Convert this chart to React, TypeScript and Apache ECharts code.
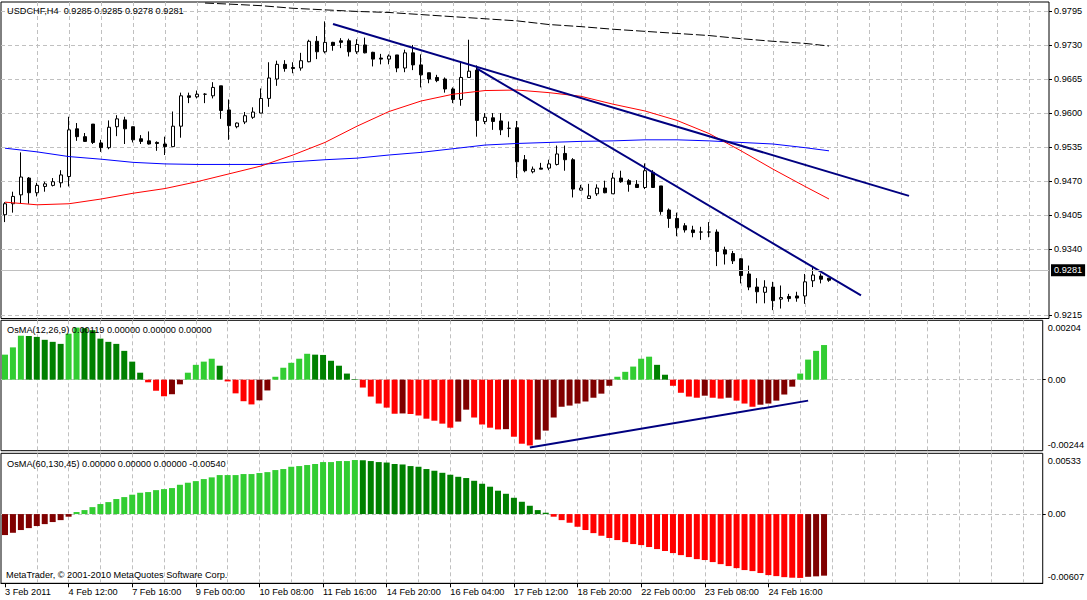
import React, { useEffect, useRef } from 'react';
import * as echarts from 'echarts';

const symbolName = 'USDCHF,H4';
const copyright = 'MetaTrader, \u00a9 2001-2010 MetaQuotes Software Corp.';
const osmaFastName = 'OsMA(12,26,9)';
const osmaSlowName = 'OsMA(60,130,45)';

const tickLabels = ['3 Feb 2011', '4 Feb 12:00', '7 Feb 16:00', '9 Feb 00:00', '10 Feb 08:00', '11 Feb 16:00',
  '14 Feb 20:00', '16 Feb 04:00', '17 Feb 12:00', '18 Feb 20:00', '22 Feb 00:00', '23 Feb 08:00', '24 Feb 16:00'];
const labelEvery = 8;
const gridEvery = 4;
const slotCount = 131;

const opens = [0.9406, 0.9427, 0.9444, 0.9476, 0.9448, 0.9460, 0.9462, 0.9467, 0.9479, 0.9570,
  0.9555, 0.9579, 0.9543, 0.9534, 0.9574, 0.9587, 0.9574, 0.9551, 0.9547, 0.9544,
  0.9541, 0.9536, 0.9575, 0.9633, 0.9631, 0.9636, 0.9633, 0.9652, 0.9606, 0.9574,
  0.9583, 0.9592, 0.9600, 0.9628, 0.9665, 0.9693, 0.9687, 0.9686, 0.9698, 0.9737,
  0.9717, 0.9735, 0.9738, 0.9738, 0.9717, 0.9730, 0.9716, 0.9705, 0.9703, 0.9711,
  0.9686, 0.9715, 0.9692, 0.9677, 0.9668, 0.9665, 0.9646, 0.9626, 0.9668, 0.9682,
  0.9584, 0.9591, 0.9585, 0.9571, 0.9572, 0.9511, 0.9488, 0.9495, 0.9495, 0.9502,
  0.9523, 0.9511, 0.9453, 0.9437, 0.9446, 0.9457, 0.9446, 0.9476, 0.9471, 0.9464,
  0.9458, 0.9487, 0.9461, 0.9415, 0.9399, 0.9385, 0.9377, 0.9373, 0.9373, 0.9373,
  0.9339, 0.9332, 0.9322, 0.9293, 0.9268, 0.9258, 0.9268, 0.9245, 0.9250, 0.9251,
  0.9251, 0.9280, 0.9289, 0.9285];
const highs = [0.9430, 0.9450, 0.9525, 0.9478, 0.9467, 0.9469, 0.9476, 0.9491, 0.9593, 0.9581,
  0.9562, 0.9579, 0.9549, 0.9586, 0.9596, 0.9593, 0.9574, 0.9558, 0.9565, 0.9546,
  0.9555, 0.9603, 0.9639, 0.9639, 0.9643, 0.9638, 0.9659, 0.9652, 0.9626, 0.9582,
  0.9602, 0.9611, 0.9647, 0.9697, 0.9700, 0.9701, 0.9697, 0.9715, 0.9740, 0.9747,
  0.9775, 0.9736, 0.9743, 0.9742, 0.9741, 0.9744, 0.9717, 0.9713, 0.9712, 0.9711,
  0.9721, 0.9730, 0.9712, 0.9677, 0.9673, 0.9668, 0.9649, 0.9698, 0.9740, 0.9691,
  0.9600, 0.9600, 0.9600, 0.9584, 0.9585, 0.9520, 0.9498, 0.9505, 0.9511, 0.9538,
  0.9538, 0.9514, 0.9463, 0.9465, 0.9464, 0.9471, 0.9486, 0.9490, 0.9474, 0.9472,
  0.9504, 0.9491, 0.9461, 0.9418, 0.9410, 0.9390, 0.9385, 0.9383, 0.9392, 0.9378,
  0.9345, 0.9337, 0.9323, 0.9309, 0.9285, 0.9281, 0.9278, 0.9271, 0.9255, 0.9259,
  0.9293, 0.9308, 0.9294, 0.9285];
const lows = [0.9392, 0.9410, 0.9427, 0.9427, 0.9441, 0.9450, 0.9460, 0.9458, 0.9460, 0.9547,
  0.9545, 0.9541, 0.9526, 0.9531, 0.9556, 0.9541, 0.9544, 0.9541, 0.9540, 0.9528,
  0.9520, 0.9536, 0.9553, 0.9619, 0.9628, 0.9619, 0.9628, 0.9589, 0.9549, 0.9571,
  0.9579, 0.9589, 0.9600, 0.9612, 0.9652, 0.9679, 0.9676, 0.9681, 0.9697, 0.9703,
  0.9714, 0.9719, 0.9724, 0.9708, 0.9713, 0.9714, 0.9689, 0.9693, 0.9693, 0.9678,
  0.9678, 0.9682, 0.9649, 0.9657, 0.9659, 0.9639, 0.9619, 0.9614, 0.9668, 0.9555,
  0.9579, 0.9568, 0.9558, 0.9554, 0.9476, 0.9487, 0.9485, 0.9493, 0.9491, 0.9500,
  0.9490, 0.9439, 0.9452, 0.9436, 0.9442, 0.9447, 0.9446, 0.9467, 0.9450, 0.9458,
  0.9455, 0.9458, 0.9406, 0.9381, 0.9365, 0.9372, 0.9363, 0.9358, 0.9363, 0.9308,
  0.9311, 0.9312, 0.9275, 0.9262, 0.9237, 0.9237, 0.9224, 0.9227, 0.9240, 0.9240,
  0.9236, 0.9268, 0.9275, 0.9278];
const closes = [0.9427, 0.9441, 0.9478, 0.9448, 0.9462, 0.9465, 0.9469, 0.9482, 0.9568, 0.9555,
  0.9546, 0.9544, 0.9534, 0.9573, 0.9589, 0.9570, 0.9549, 0.9546, 0.9541, 0.9542,
  0.9536, 0.9575, 0.9633, 0.9630, 0.9636, 0.9636, 0.9649, 0.9605, 0.9576, 0.9581,
  0.9595, 0.9602, 0.9628, 0.9667, 0.9693, 0.9685, 0.9685, 0.9700, 0.9737, 0.9717,
  0.9735, 0.9729, 0.9735, 0.9717, 0.9731, 0.9715, 0.9703, 0.9703, 0.9709, 0.9686,
  0.9715, 0.9692, 0.9673, 0.9665, 0.9662, 0.9646, 0.9626, 0.9668, 0.9680, 0.9586,
  0.9592, 0.9584, 0.9568, 0.9571, 0.9507, 0.9490, 0.9493, 0.9493, 0.9503, 0.9522,
  0.9511, 0.9455, 0.9457, 0.9442, 0.9457, 0.9448, 0.9476, 0.9469, 0.9464, 0.9458,
  0.9490, 0.9458, 0.9412, 0.9399, 0.9381, 0.9377, 0.9372, 0.9373, 0.9373, 0.9336,
  0.9331, 0.9318, 0.9290, 0.9268, 0.9259, 0.9268, 0.9242, 0.9248, 0.9246, 0.9247,
  0.9278, 0.9291, 0.9283, 0.9281];

const maBlue = [[0, 0.9533], [4, 0.9526], [8, 0.9517], [12, 0.9512], [16, 0.9506], [20, 0.9503], [24, 0.9502],
  [28, 0.9502], [32, 0.9502], [36, 0.9507], [40, 0.9511], [44, 0.9514], [48, 0.9520], [52, 0.9525], [56, 0.9532],
  [60, 0.9539], [64, 0.9542], [68, 0.9544], [72, 0.9546], [76, 0.9547], [80, 0.9549], [84, 0.9549], [88, 0.9547],
  [92, 0.9544], [96, 0.9541], [100, 0.9534], [103, 0.9528]];
const maRed = [[0, 0.9430], [4, 0.9425], [8, 0.9427], [12, 0.9436], [16, 0.9447], [20, 0.9456], [24, 0.9469],
  [28, 0.9484], [32, 0.9499], [36, 0.9520], [40, 0.9544], [44, 0.9575], [48, 0.9603], [52, 0.9623], [56, 0.9636],
  [60, 0.9643], [64, 0.9644], [68, 0.9639], [72, 0.9632], [76, 0.9617], [80, 0.9604], [84, 0.9586], [88, 0.9561],
  [92, 0.9528], [96, 0.9493], [100, 0.9460], [103, 0.9436]];
const maSlow = [[25, 0.9810], [28, 0.9808], [32, 0.9805], [36, 0.9800], [40, 0.9797], [44, 0.9794], [48, 0.9792],
  [52, 0.9788], [56, 0.9784], [60, 0.9780], [64, 0.9776], [68, 0.9769], [72, 0.9765], [76, 0.9760], [80, 0.9756],
  [84, 0.9752], [88, 0.9748], [92, 0.9742], [96, 0.9737], [100, 0.9733], [103, 0.9728]];

const trendA = [[41, 0.9770], [113, 0.9442]];
const trendB = [[59, 0.9685], [107, 0.9252]];
const trendOsma = [[66, -0.00233], [101, -0.00072]];

const osmaFast = [0.00086, 0.00111, 0.00151, 0.00150, 0.00147, 0.00137, 0.00130, 0.00123, 0.00158, 0.00179,
  0.00177, 0.00170, 0.00141, 0.00130, 0.00123, 0.00099, 0.00062, 0.00024, -0.00009, -0.00038,
  -0.00057, -0.00050, -0.00016, 0.00024, 0.00051, 0.00062, 0.00072, 0.00048, -0.00006, -0.00047,
  -0.00074, -0.00085, -0.00071, -0.00037, 0.00010, 0.00041, 0.00058, 0.00072, 0.00089, 0.00086,
  0.00085, 0.00065, 0.00048, 0.00021, 0.00002, -0.00027, -0.00058, -0.00082, -0.00096, -0.00117,
  -0.00116, -0.00118, -0.00123, -0.00134, -0.00141, -0.00151, -0.00165, -0.00144, -0.00103, -0.00130,
  -0.00154, -0.00165, -0.00171, -0.00170, -0.00196, -0.00220, -0.00226, -0.00206, -0.00175, -0.00130,
  -0.00093, -0.00089, -0.00082, -0.00075, -0.00062, -0.00048, -0.00021, 0.00010, 0.00027, 0.00045,
  0.00072, 0.00079, 0.00051, 0.00017, -0.00021, -0.00045, -0.00058, -0.00062, -0.00055, -0.00062,
  -0.00065, -0.00062, -0.00072, -0.00082, -0.00093, -0.00086, -0.00082, -0.00072, -0.00051, -0.00024,
  0.00021, 0.00069, 0.00099, 0.00119];
const osmaSlow = [-0.00184, -0.00164, -0.00140, -0.00123, -0.00105, -0.00088, -0.00070, -0.00053, -0.00023, 0.00018,
  0.00035, 0.00061, 0.00088, 0.00105, 0.00132, 0.00149, 0.00170, 0.00187, 0.00193, 0.00210,
  0.00219, 0.00228, 0.00257, 0.00275, 0.00289, 0.00307, 0.00322, 0.00342, 0.00342, 0.00342,
  0.00351, 0.00351, 0.00360, 0.00368, 0.00386, 0.00395, 0.00415, 0.00421, 0.00430, 0.00439,
  0.00456, 0.00456, 0.00465, 0.00465, 0.00474, 0.00472, 0.00465, 0.00456, 0.00452, 0.00439,
  0.00435, 0.00421, 0.00415, 0.00395, 0.00380, 0.00362, 0.00345, 0.00327, 0.00316, 0.00292,
  0.00266, 0.00240, 0.00205, 0.00178, 0.00143, 0.00108, 0.00073, 0.00035, 0.00012, -0.00023,
  -0.00053, -0.00076, -0.00111, -0.00140, -0.00167, -0.00190, -0.00210, -0.00228, -0.00246, -0.00263,
  -0.00272, -0.00289, -0.00307, -0.00324, -0.00342, -0.00360, -0.00377, -0.00395, -0.00403, -0.00421,
  -0.00439, -0.00456, -0.00474, -0.00491, -0.00500, -0.00517, -0.00535, -0.00544, -0.00553, -0.00558,
  -0.00560, -0.00550, -0.00546, -0.00540];

const priceTicks = [0.9795, 0.9730, 0.9665, 0.9600, 0.9535, 0.9470, 0.9405, 0.9340, 0.9215];
const priceRange = [0.9208, 0.9812];
const osmaFastRange = [-0.00244, 0.00204];
const osmaSlowRange = [-0.00607, 0.00533];

const osmaColors = ['#32CD32', '#008000', '#FF0000', '#800000'];

const FONT = 'Liberation Sans';
const FS = 9.2;
const GRID_COLOR = '#c0c0c0';

function osmaClasses(vals: number[]) {
  return vals.map((v, i) => {
    const prev = i > 0 ? vals[i - 1] : null;
    if (v >= 0) return prev === null || v >= prev ? 0 : 1;
    return prev !== null && v <= prev ? 2 : 3;
  });
}

function osmaTitle(name: string, vals: number[]) {
  const cls = osmaClasses(vals);
  const last = vals.length - 1;
  const buf = [0, 0, 0, 0];
  buf[cls[last]] = vals[last];
  return name + ' ' + buf.map((b) => b.toFixed(5)).join(' ');
}

export default function App() {
  const ref = useRef<HTMLDivElement>(null);

  useEffect(() => {
    document.body.style.margin = '0';
    if (!ref.current) return;
    const chart = echarts.init(ref.current, undefined, { renderer: 'svg' });

    const categories = Array.from({ length: slotCount }, (_, i) => String(i));
    const candles = opens.map((o, i) => [o, closes[i], lows[i], highs[i]]);
    const last = closes.length - 1;

    const gridLine = { color: GRID_COLOR, type: [4, 3], width: 1 };
    const vSplit = {
      show: true,
      alignWithLabel: true,
      interval: (i: number) => i > 0 && i % gridEvery === 0,
      lineStyle: gridLine,
    };
    const labelInterval = (i: number) => i % labelEvery === 0 && i / labelEvery < tickLabels.length;

    const xAxisFor = (gridIndex: number, bottom: boolean) => ({
      type: 'category',
      gridIndex,
      data: categories,
      boundaryGap: true,
      axisLine: { show: bottom, onZero: false, lineStyle: { color: '#000', width: 1 } },
      axisTick: bottom
        ? { show: true, alignWithLabel: true, interval: labelInterval, length: 4, lineStyle: { color: '#000' } }
        : { show: false },
      axisLabel: bottom
        ? {
            show: true,
            interval: labelInterval,
            formatter: (_v: string, i: number) => tickLabels[i / labelEvery] ?? '',
            align: 'left',
            margin: 4,
            color: '#000',
            fontFamily: FONT,
            fontSize: FS,
          }
        : { show: false },
      splitLine: vSplit,
    });

    const osmaAxis = (gridIndex: number, range: number[]) => ({
      type: 'value',
      gridIndex,
      position: 'right',
      min: range[0],
      max: range[1],
      axisLine: { show: false },
      axisTick: { show: true, customValues: [0], length: 3, lineStyle: { color: '#000' } },
      axisLabel: {
        show: true,
        customValues: [range[0], 0, range[1]],
        margin: 5,
        color: '#000',
        fontFamily: FONT,
        fontSize: FS,
        formatter: (v: number) => {
          if (Math.abs(v) < 1e-12) return '0.00';
          return v > 0 ? `{t|${v.toFixed(5)}}` : `{b|${v.toFixed(5)}}`;
        },
        rich: {
          t: { padding: [16, 0, 0, 0], fontFamily: FONT, fontSize: FS, color: '#000' },
          b: { padding: [0, 0, 12, 0], fontFamily: FONT, fontSize: FS, color: '#000' },
        },
      },
      splitLine: { show: true, lineStyle: gridLine },
    });

    const osmaBars = (vals: number[], gridIdx: number) => {
      const cls = osmaClasses(vals);
      return {
        type: 'bar',
        xAxisIndex: gridIdx,
        yAxisIndex: gridIdx,
        barWidth: 6,
        silent: true,
        z: 2,
        data: vals.map((v, i) => ({ value: v, itemStyle: { color: osmaColors[cls[i]] } })),
      };
    };

    const textStyle = (text: string, x: number, y: number) => ({
      type: 'text',
      x,
      y,
      silent: true,
      z: 100,
      style: { text, fill: '#000', fontFamily: FONT, fontSize: FS, verticalAlign: 'middle', align: 'left' },
    });

    const headline = `${symbolName}  ${opens[last].toFixed(4)} ${highs[last].toFixed(4)} ${lows[last].toFixed(4)} ${closes[last].toFixed(4)}`;

    const option: any = {
      animation: false,
      backgroundColor: '#fff',
      grid: [
        { left: 1, top: 2, width: 1048, height: 316.5, show: true, borderColor: '#000', borderWidth: 1, backgroundColor: 'transparent' },
        { left: 1, top: 320.3, width: 1048, height: 130.4, show: true, borderColor: '#000', borderWidth: 1, backgroundColor: 'transparent' },
        { left: 1, top: 453.3, width: 1048, height: 130, show: true, borderColor: '#000', borderWidth: 1, backgroundColor: 'transparent' },
      ],
      xAxis: [xAxisFor(0, false), xAxisFor(1, false), xAxisFor(2, true)],
      yAxis: [
        {
          type: 'value',
          gridIndex: 0,
          position: 'right',
          min: priceRange[0],
          max: priceRange[1],
          axisLine: { show: false },
          axisTick: { show: true, customValues: priceTicks, length: 3, lineStyle: { color: '#000' } },
          axisLabel: {
            show: true,
            customValues: priceTicks,
            formatter: (v: number) => v.toFixed(4),
            margin: 5,
            color: '#000',
            fontFamily: FONT,
            fontSize: FS,
          },
          splitLine: { show: true, lineStyle: gridLine },
        },
        osmaAxis(1, osmaFastRange),
        osmaAxis(2, osmaSlowRange),
      ],
      series: [
        {
          type: 'candlestick',
          xAxisIndex: 0,
          yAxisIndex: 0,
          data: candles,
          barWidth: 4.4,
          silent: true,
          z: 2,
          itemStyle: { color: '#fff', color0: '#000', borderColor: '#000', borderColor0: '#000', borderWidth: 1 },
          markLine: {
            silent: true,
            symbol: ['none', 'none'],
            lineStyle: { color: '#c0c0c0', type: 'solid', width: 1 },
            label: {
              show: true,
              position: 'end',
              distance: 2,
              formatter: closes[last].toFixed(4),
              color: '#fff',
              backgroundColor: '#000',
              padding: [2, 3, 1, 3],
              fontFamily: FONT,
              fontSize: FS,
            },
            data: [{ yAxis: closes[last] }],
          },
        },
        { type: 'line', xAxisIndex: 0, yAxisIndex: 0, data: maBlue, showSymbol: false, silent: true, z: 3, lineStyle: { color: '#0000FF', width: 1 } },
        { type: 'line', xAxisIndex: 0, yAxisIndex: 0, data: maRed, showSymbol: false, silent: true, z: 3, lineStyle: { color: '#FF0000', width: 1 } },
        { type: 'line', xAxisIndex: 0, yAxisIndex: 0, data: maSlow, showSymbol: false, silent: true, z: 3, lineStyle: { color: '#000', width: 1, type: [9, 3] } },
        { type: 'line', xAxisIndex: 0, yAxisIndex: 0, data: trendA, showSymbol: false, silent: true, z: 4, lineStyle: { color: '#000080', width: 2 } },
        { type: 'line', xAxisIndex: 0, yAxisIndex: 0, data: trendB, showSymbol: false, silent: true, z: 4, lineStyle: { color: '#000080', width: 2 } },
        osmaBars(osmaFast, 1),
        { type: 'line', xAxisIndex: 1, yAxisIndex: 1, data: trendOsma, showSymbol: false, silent: true, z: 4, lineStyle: { color: '#000080', width: 2 } },
        osmaBars(osmaSlow, 2),
      ],
      graphic: [
        textStyle(headline, 7, 11),
        textStyle(osmaTitle(osmaFastName, osmaFast), 7, 330),
        textStyle(osmaTitle(osmaSlowName, osmaSlow), 7, 463.5),
        textStyle(copyright, 6, 575),
      ],
    };

    chart.setOption(option);
    return () => chart.dispose();
  }, []);

  return <div ref={ref} style={{ width: 1087, height: 600 }} />;
}
